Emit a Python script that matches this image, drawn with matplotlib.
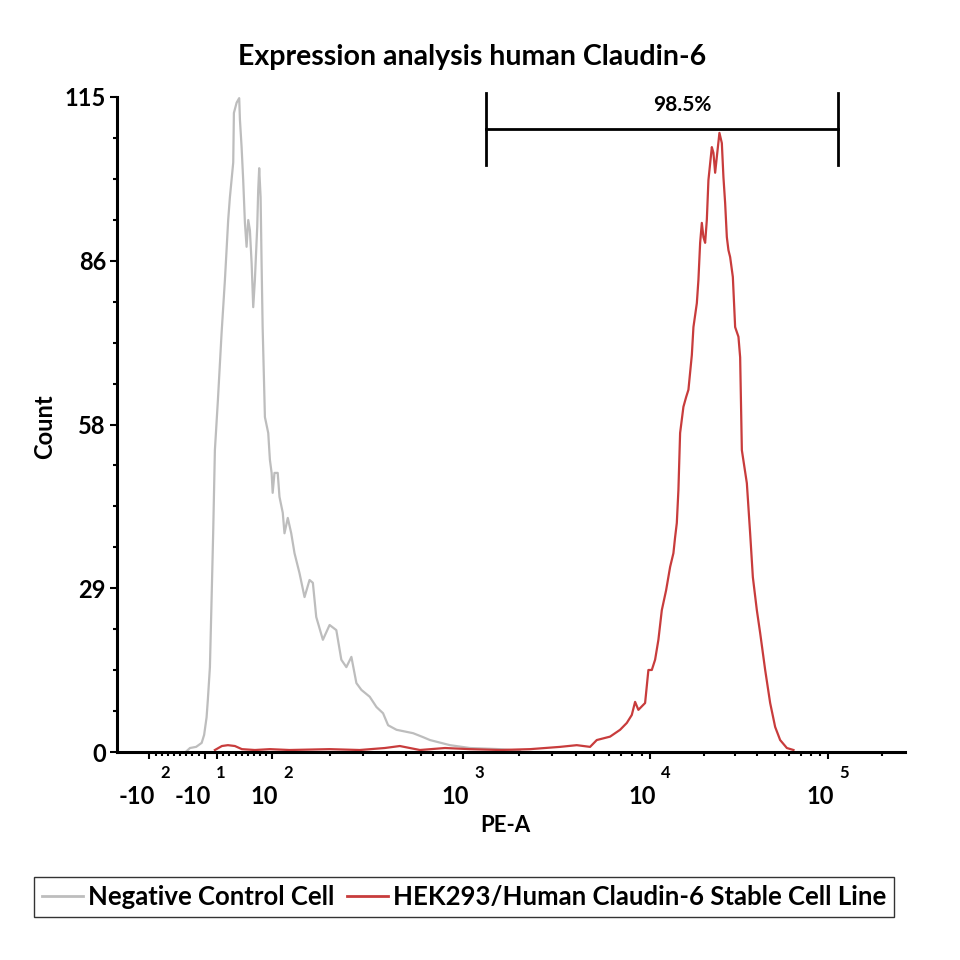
import numpy as np
import matplotlib
matplotlib.use("Agg")
import matplotlib.pyplot as plt
from matplotlib.transforms import offset_copy

plt.rcParams['font.family'] = ['Lato', 'DejaVu Sans']
plt.rcParams['font.weight'] = 'bold'

# negative control histogram (PE-A value, count)
neg_x = [-41, -34, -24, -15, -11, -7, -5, -1.6, 1.1, 3.7, 6.5, 11.4, 17.4, 22.8, 25.2,
         28.1, 30.9, 36.3, 37.4, 41.8, 46.0, 47.2, 49.9, 52.5, 55.3, 58.0, 60.7, 63.4,
         66.2, 68.8, 71.5, 75.3, 76.9, 78.5, 80.8, 82.4, 84.1, 87.8, 93.2, 95.9, 98.7,
         100.3, 102.5, 106.6, 108.9, 113.3, 115.7, 120.4, 125.5, 130.6, 138.7, 147.4,
         156.6, 163.0, 169.8, 184.0, 199.5, 216.4, 229.9, 244.3, 259.6, 275.8, 293.0,
         324.0, 351.4, 380.7, 404.5, 447.8, 547.6, 618.1, 670.5, 854.4, 1090, 1578, 2017]
neg_y = [0, 0.7, 0.9, 1.6, 3.0, 6.1, 9.1, 14.9, 26.7, 38.4, 53.0, 61.8, 73.6, 82.9, 87.6,
         93.4, 97.4, 103.5, 112.2, 114.0, 114.8, 111.0, 106.2, 100.4, 92.9, 88.7, 93.4, 91.6,
         85.8, 78.1, 82.9, 92.2, 98.7, 102.5, 97.4, 85.8, 74.6, 58.8, 56.0, 51.3, 49.0,
         45.5, 49.0, 49.0, 44.8, 42.0, 38.4, 41.1, 38.4, 34.9, 31.4, 27.2,
         30.2, 29.7, 23.7, 19.7, 22.3, 21.4, 16.2, 14.9, 16.7, 12.1, 10.9,
         9.7, 7.9, 6.8, 4.7, 3.9, 3.3, 2.6, 2.1, 1.2, 0.7, 0.5, 0.2]

# HEK293 / human Claudin-6 histogram (PE-A value, count)
pos_x = [6.5, 17.9, 27.6, 39, 50.4, 71.5, 95.9, 122.9, 199.5, 287, 388.7, 466, 594, 804,
         1090, 1578, 2282, 3302, 4055, 4777, 5188, 6111, 6913, 7506, 7982, 8314, 8658,
         9403, 9793, 10223, 10668, 11133, 11634, 12300, 12955, 13517, 13816, 14125, 14421,
         14740, 15385, 15930, 16415, 17154, 17513, 18300, 18680, 19098, 19520, 19930,
         20370, 20822, 21258, 22216, 22681, 23187, 23700, 24510, 25283, 25813, 26384,
         26972, 27540, 28149, 29150, 30030, 31343, 32036, 32752, 34935, 36457, 37757,
         39757, 41495, 44275, 47229, 50376, 53740, 58614, 63856]
pos_y = [0.35, 1.05, 1.2, 1.05, 0.5, 0.35, 0.5, 0.35, 0.5, 0.35, 0.7, 1.05, 0.35, 0.7,
         0.5, 0.35, 0.5, 0.9, 1.2, 0.9, 2.1, 2.7, 3.9, 5.1, 6.5, 8.8, 7.4,
         8.6, 14.4, 14.4, 16.2, 19.7, 24.9, 28.4, 32.5, 34.9, 37.7, 40.2, 46.0,
         56.0, 60.6, 62.3, 63.6, 69.7, 74.6, 78.8, 82.9, 89.4, 92.9, 90.4,
         89.4, 93.4, 100.4, 106.2, 105.2, 101.7, 104.5, 108.7, 106.9, 100.9, 96.4,
         90.4, 88.1, 86.9, 83.4, 74.6, 72.9, 69.3, 53.0, 47.2, 38.4, 30.7,
         24.9, 20.9, 14.4, 8.6, 4.4, 2.1, 0.7, 0.35]

# gate
gate_lo, gate_hi = 1327, 113800
gate_label = "98.5%"

# axis ticks
y_ticks = [0, 28.75, 57.5, 86.25, 115]
y_labels = ["0", "29", "58", "86", "115"]
x_major = [-100, -10, 10, 100, 1000, 10000, 100000]
x_lab_vals = [-100, -10, 100, 1000, 10000, 100000]
x_lab_base = ["-10", "-10", "10", "10", "10", "10"]
x_lab_exp = ["2", "1", "2", "3", "4", "5"]

# biexponential-like display scale: linear around zero, log above 100
dec_lg = [2, 3, 4, 5, 6]
dec_px = [272.5, 463, 650, 828, 1006]


def fwd(x):
    x = np.asarray(x, dtype=float)
    out = 211 + 0.615 * x
    big = x > 100
    out = np.where(big, np.interp(np.log10(np.where(big, x, 100)), dec_lg, dec_px), out)
    neg = x < -100
    out = np.where(neg, 149.5 - 190 * (np.log10(np.where(neg, -x, 100)) - 2), out)
    return out


def inv(p):
    p = np.asarray(p, dtype=float)
    out = (p - 211) / 0.615
    hi = p > 272.5
    out = np.where(hi, 10 ** np.interp(p, dec_px, dec_lg), out)
    lo = p < 149.5
    out = np.where(lo, -10 ** (2 + (149.5 - np.where(lo, p, 149.5)) / 190), out)
    return out


fig = plt.figure(figsize=(9.6, 9.6), dpi=100)
ax = fig.add_axes([117 / 960, 1 - 752 / 960, (905 - 117) / 960, (752 - 97) / 960])
ax.set_xscale('function', functions=(fwd, inv))

gray = '#bdbdbd'
red = '#c83c3c'
ax.plot(neg_x, neg_y, color=gray, lw=1.6, label='Negative Control Cell')
ax.plot(pos_x, pos_y, color=red, lw=1.6, label='HEK293/Human Claudin-6 Stable Cell Line')

ax.set_xlim(-148, 2.7e5)
ax.set_ylim(0, 115)

# gate bar
ax.plot([gate_lo, gate_hi], [109.4, 109.4], color='black', lw=2, clip_on=False)
for gx in (gate_lo, gate_hi):
    ax.plot([gx, gx], [103.1, 115.7], color='black', lw=2, clip_on=False)
ax.text(np.sqrt(gate_lo * gate_hi) * 1.24, 113.6, gate_label, ha='center', va='center',
        fontsize=15, fontweight='bold')

# spines
for s in ('top', 'right'):
    ax.spines[s].set_visible(False)
for s in ('left', 'bottom'):
    ax.spines[s].set_linewidth(2.2)

# y axis
ax.set_yticks(y_ticks)
ax.set_yticklabels(y_labels, fontsize=17, fontweight='bold')
ax.set_yticks([v + d for v in y_ticks[:-1] for d in (7.1875, 14.375, 21.5625)], minor=True)
ax.tick_params(axis='y', which='major', length=5, width=1.5, pad=3)
ax.tick_params(axis='y', which='minor', length=3, width=1.5)

# x axis
minor = [v for v in range(-90, 100, 10) if v not in (-10, 0, 10)]
for d in (100, 1000, 10000):
    minor += [k * d for k in range(2, 10)]
minor += [200000]
ax.set_xticks(x_major)
ax.set_xticks(minor, minor=True)
ax.set_xticklabels([])
ax.tick_params(axis='x', which='major', length=5, width=1.5)
ax.tick_params(axis='x', which='minor', length=3, width=1.5)

xt = ax.get_xaxis_transform()
for v, b, e in zip(x_lab_vals, x_lab_base, x_lab_exp):
    ax.text(v, -0.0687, b, transform=offset_copy(xt, fig=fig, x=6, y=0, units='dots'),
            ha='right', va='center', fontsize=17, fontweight='bold')
    ax.text(v, -0.032, e, transform=offset_copy(xt, fig=fig, x=11, y=0, units='dots'),
            ha='left', va='center', fontsize=12, fontweight='bold')

fig.text(505 / 960, 1 - 825 / 960, 'PE-A', ha='center', va='center', fontsize=16,
         fontweight='bold')
fig.text(45 / 960, 1 - 427 / 960, 'Count', ha='center', va='center', rotation=90,
         fontsize=17, fontweight='bold')
fig.text(472 / 960, 1 - 57 / 960, 'Expression analysis human Claudin-6', ha='center',
         va='center', fontsize=20.5, fontweight='bold')

leg = fig.legend(loc='center', bbox_to_anchor=(464 / 960, 1 - 897 / 960), ncol=2,
                 fontsize=18.5, frameon=True, fancybox=False, handlelength=1.6,
                 handletextpad=0.2, columnspacing=0.5, borderpad=0.3)
leg.get_frame().set_edgecolor('black')
leg.get_frame().set_linewidth(1)
for line in leg.get_lines():
    line.set_linewidth(2)

fig.savefig('out.png', dpi=100)
